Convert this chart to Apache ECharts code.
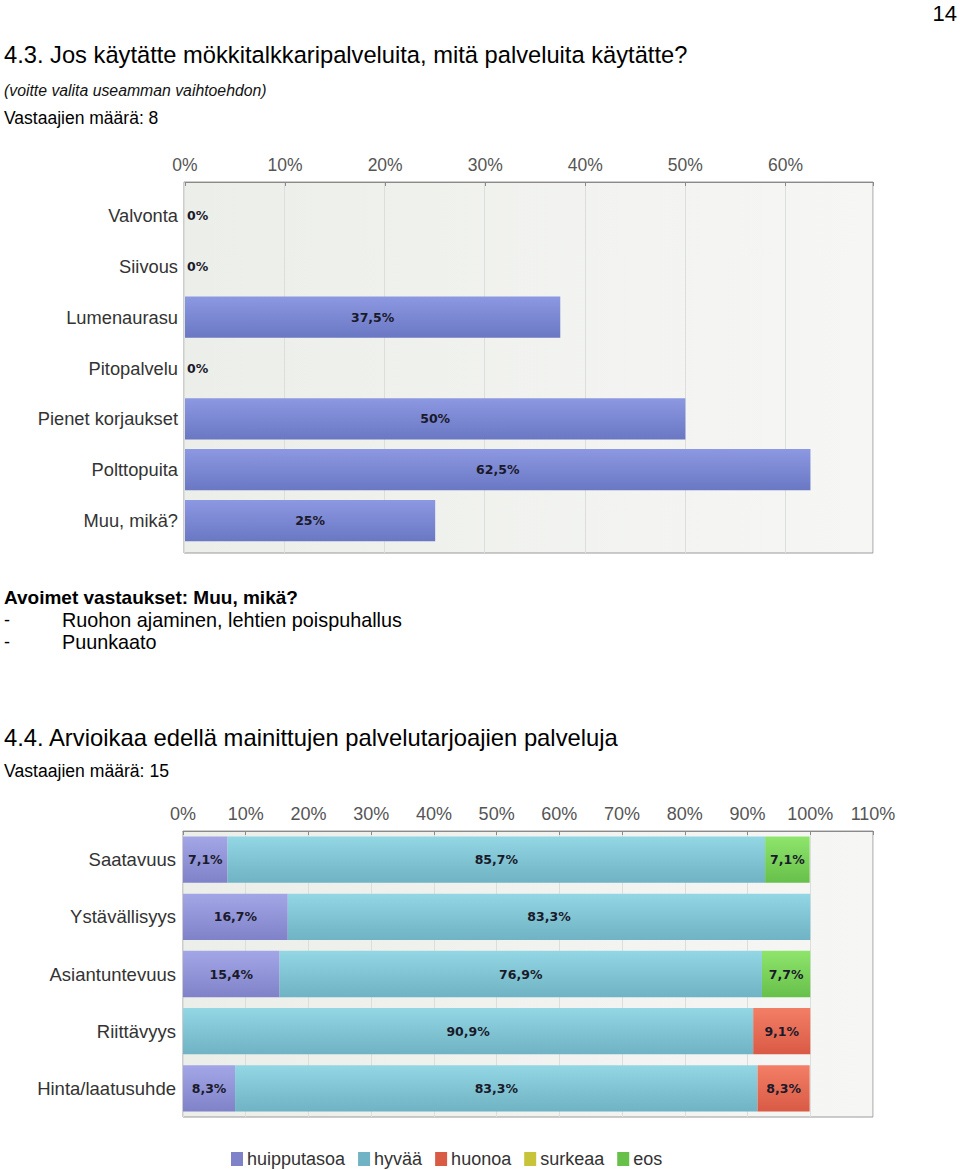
<!DOCTYPE html>
<html>
<head>
<meta charset="utf-8">
<script src="https://cdn.jsdelivr.net/npm/echarts@6/dist/echarts.min.js"></script>
<style>
html,body{margin:0;padding:0;background:#fff;}
#c{width:960px;height:1170px;}
</style>
</head>
<body>
<div id="c"></div>
<script>
// ---- Data: question 4.3 ----
const services = ['Valvonta','Siivous','Lumenaurasu','Pitopalvelu','Pienet korjaukset','Polttopuita','Muu, mikä?'];
const serviceShare = [0, 0, 37.5, 0, 50, 62.5, 25];
const axis1Ticks = [0, 10, 20, 30, 40, 50, 60];

// ---- Data: question 4.4 ----
const aspects = ['Saatavuus','Ystävällisyys','Asiantuntevuus','Riittävyys','Hinta/laatusuhde'];
const ratingNames = ['huipputasoa','hyvää','huonoa','surkeaa','eos'];
const huipputasoa = [7.1, 16.7, 15.4, 0, 8.3];
const hyvaa       = [85.7, 83.3, 76.9, 90.9, 83.3];
const huonoa      = [0, 0, 0, 9.1, 8.3];
const surkeaa     = [0, 0, 0, 0, 0];
const eos         = [7.1, 0, 7.7, 0, 0];
const axis2Ticks = [0,10,20,30,40,50,60,70,80,90,100,110];

const FONT = '"Liberation Sans", Arial, sans-serif';
const fmt = v => String(v).replace('.', ',') + '%';
const grad = (a, b) => new echarts.graphic.LinearGradient(0, 0, 0, 1, [{offset:0,color:a},{offset:1,color:b}]);
const bgGrad = new echarts.graphic.LinearGradient(0, 0, 1, 0, [{offset:0,color:'#eceee9'},{offset:1,color:'#f6f7f5'}]);

const chart = echarts.init(document.getElementById('c'), null, {renderer:'svg'});

const ratingColors = [
  ['#a3a6e6','#7f82c8'],
  ['#93d6e4','#6fb3c4'],
  ['#f37e66','#d95a45'],
  ['#e6e25a','#c8c43a'],
  ['#8fe56c','#67c04a']
];
const ratingData = [huipputasoa, hyvaa, huonoa, surkeaa, eos];

const barLabel = {
  show: true, position: 'inside', color: '#1a1a2a',
  fontFamily: '"DejaVu Sans", Verdana, sans-serif', fontWeight: 'bold', fontSize: 12.5,
  formatter: p => (p.value ? fmt(p.value) : '')
};

const txt = (x, y, s, size, extra) => ({
  type: 'text', x: x, y: y,
  style: Object.assign({text: s, fontFamily: FONT, fontSize: size, fill: '#000', verticalAlign: 'middle'}, extra || {})
});

const option = {
  animation: false,
  graphic: [
    txt(957, 13, '14', 22, {align: 'right'}),
    txt(4, 55, '4.3. Jos käytätte mökkitalkkaripalveluita, mitä palveluita käytätte?', 23.7),
    txt(4, 90, '(voitte valita useamman vaihtoehdon)', 15.8, {fontStyle:'italic', fill:'#111'}),
    txt(4, 118, 'Vastaajien määrä: 8', 17.5),
    txt(4, 597, 'Avoimet vastaukset: Muu, mikä?', 19, {fontWeight:'bold'}),
    txt(4, 620, '-', 18),
    txt(62, 620, 'Ruohon ajaminen, lehtien poispuhallus', 19.8),
    txt(4, 642, '-', 18),
    txt(62, 642, 'Puunkaato', 19.8),
    txt(4, 737, '4.4. Arvioikaa edellä mainittujen palvelutarjoajien palveluja', 23.8),
    txt(4, 771, 'Vastaajien määrä: 15', 17.6)
  ],
  legend: {
    left: 231, top: 1150, padding: 0,
    icon: 'rect', itemWidth: 12, itemHeight: 14, itemGap: 13,
    textStyle: {fontFamily: FONT, fontSize: 18, lineHeight: 16, color: '#333', padding: [0,0,0,-1]}
  },
  grid: [
    {left: 185, top: 190, width: 688, height: 356},
    {left: 184, top: 182, width: 689, height: 371, show: true, backgroundColor: bgGrad, borderColor: '#9a9a9a', borderWidth: 1, z: 0},
    {left: 183, top: 831, width: 690, height: 286, show: true, backgroundColor: bgGrad, borderColor: '#9a9a9a', borderWidth: 1}
  ],
  xAxis: [
    {gridIndex: 0, type: 'value', position: 'top', offset: 8, min: 0, max: 68.75, interval: 10,
     axisLine: {show: true, lineStyle: {color: '#8a8a8a'}},
     axisTick: {show: true, inside: true, length: 4, lineStyle: {color: '#8a8a8a'}},
     splitLine: {show: false},
     axisLabel: {fontFamily: FONT, fontSize: 17.5, color: '#555', margin: 8,
       formatter: v => (axis1Ticks.indexOf(v) >= 0 ? v + '%' : '')}},
    {gridIndex: 1, type: 'value', min: 0, max: 68.75, interval: 10,
     axisLine: {show: false}, axisTick: {show: false}, axisLabel: {show: false},
     splitLine: {show: true, lineStyle: {color: '#dcdedb'}}},
    {gridIndex: 2, type: 'value', position: 'top', min: 0, max: 110, interval: 10,
     axisLine: {show: true, lineStyle: {color: '#8a8a8a'}},
     axisTick: {show: true, inside: true, length: 4, lineStyle: {color: '#8a8a8a'}},
     splitLine: {show: true, lineStyle: {color: '#dcdedb'}},
     axisLabel: {fontFamily: FONT, fontSize: 18, color: '#555', margin: 8,
       formatter: v => (axis2Ticks.indexOf(v) >= 0 ? v + '%' : '')}}
  ],
  yAxis: [
    {gridIndex: 0, type: 'category', data: services, inverse: true,
     axisLine: {show: false}, axisTick: {show: false},
     axisLabel: {fontFamily: FONT, fontSize: 18.3, color: '#333', margin: 7}},
    {gridIndex: 1, type: 'category', data: [''], show: false},
    {gridIndex: 2, type: 'category', data: aspects, inverse: true,
     axisLine: {show: false}, axisTick: {show: false},
     axisLabel: {fontFamily: FONT, fontSize: 18.5, color: '#333', margin: 7}}
  ],
  series: [
    {type: 'bar', xAxisIndex: 0, yAxisIndex: 0, barCategoryGap: '19%', z: 3,
     itemStyle: {color: grad('#8c98e2', '#6a77c2')},
     label: barLabel,
     data: serviceShare.map(v => v === 0
       ? {value: 0, label: {show: true, position: 'insideLeft', distance: 2, formatter: () => '0%'}}
       : v)}
  ].concat(ratingNames.map((n, i) => ({
     type: 'bar', name: n, stack: 'r', xAxisIndex: 2, yAxisIndex: 2, barCategoryGap: '19%', z: 3,
     itemStyle: {color: grad(ratingColors[i][0], ratingColors[i][1])},
     label: barLabel,
     data: ratingData[i]
  })))
};
option.legend.data = ratingNames.map((n, i) => ({name: n, itemStyle: {color: ratingColors[i][1]}}));
chart.setOption(option);
</script>
</body>
</html>
